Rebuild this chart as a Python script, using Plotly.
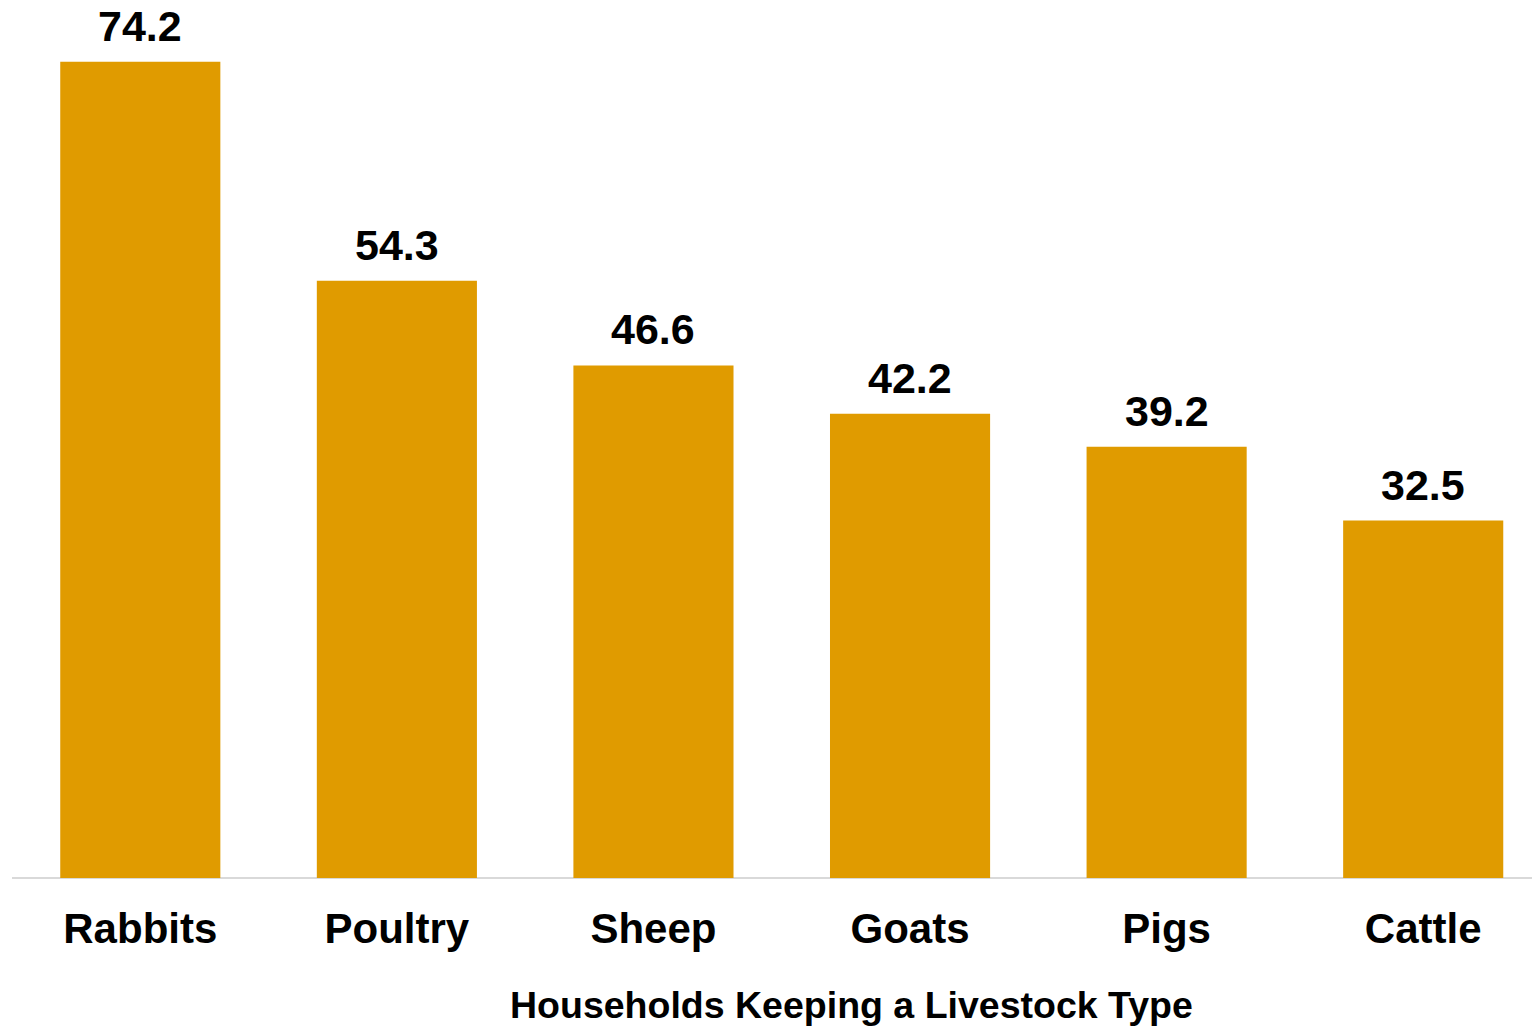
import plotly.graph_objects as go

categories = ["Rabbits", "Poultry", "Sheep", "Goats", "Pigs", "Cattle"]
values = [74.2, 54.3, 46.6, 42.2, 39.2, 32.5]
axis_title = "Households Keeping a Livestock Type"

FONT = "Liberation Sans, Arial, sans-serif"
BAR = "#E09B00"

W, H = 1532, 1027
BASE = 878  # baseline in figure px
ML = 12

fig = go.Figure()
fig.add_trace(go.Bar(
    x=categories, y=values, marker=dict(color=BAR, line=dict(width=0)),
    width=0.624, hoverinfo="skip",
))

for c, v in zip(categories, values):
    fig.add_annotation(
        x=c, y=v, xref="x", yref="y", text=f"<b>{v:.1f}</b>",
        showarrow=False, yanchor="bottom", yshift=15,
        height=40, valign="middle", borderpad=0,
        font=dict(family=FONT, size=43, color="#000000"),
    )

fig.add_annotation(
    x=(851 - ML) / (W - ML), y=-(1005 - BASE) / BASE, xref="paper", yref="paper",
    yanchor="middle", height=44, valign="middle", borderpad=0,
    text=f"<b>{axis_title}</b>", showarrow=False,
    font=dict(family=FONT, size=37.5, color="#000000"),
)

fig.update_layout(
    width=W, height=H,
    margin=dict(l=ML, r=0, t=0, b=H - BASE),
    paper_bgcolor="white", plot_bgcolor="white",
    showlegend=False,
    xaxis=dict(
        range=[-0.5, 5.424], showgrid=False, zeroline=False,
        showline=False, ticks="", ticklabelstandoff=22,
        tickfont=dict(family=FONT, size=42, color="#000000"),
        tickprefix="<b>", ticksuffix="</b>",
    ),
    yaxis=dict(
        range=[0, BASE / 11.0], showgrid=False, zeroline=True,
        zerolinecolor="#D9D9D9", zerolinewidth=2,
        showticklabels=False, showline=False, ticks="",
    ),
)

fig.write_html(
    "out.html",
    config={"displayModeBar": False},
    post_script="document.body.style.margin='0';document.body.style.overflow='hidden';",
)
